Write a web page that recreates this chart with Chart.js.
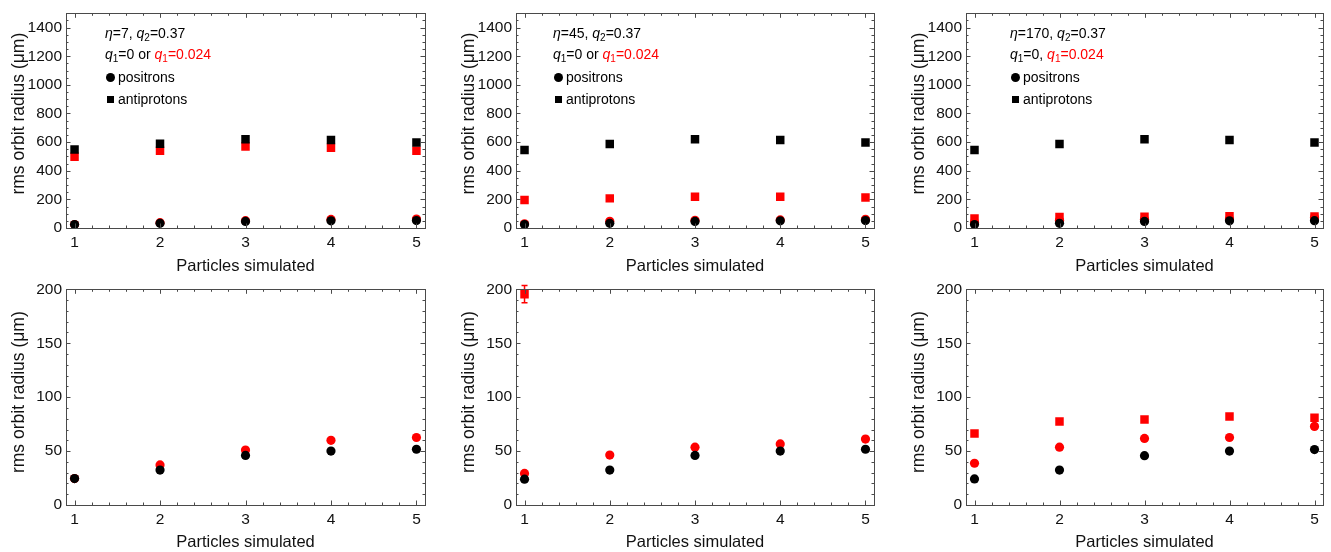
<!DOCTYPE html>
<html><head><meta charset="utf-8">
<script src="https://cdn.jsdelivr.net/npm/chart.js@4/dist/chart.umd.min.js"></script>
<style>
html,body{margin:0;padding:0;background:#fff;}
#wrap{position:relative;width:1331px;height:552px;overflow:hidden;font-family:"Liberation Sans",Arial,sans-serif;}
.panel{position:absolute;}
.note{position:absolute;font-size:14px;color:#000;line-height:14px;white-space:nowrap;}
.note sub{font-size:10px;vertical-align:-3px;line-height:0;}
.red{color:#f00}
.dot{position:absolute;width:9px;height:9px;border-radius:50%;background:#000;}
.sq{position:absolute;width:7px;height:7px;background:#000;}
</style>
</head><body>
<div id="wrap"></div>
<script>
// ---------------- data ----------------
const particles = [1, 2, 3, 4, 5];
const xTicks = [1, 2, 3, 4, 5];
const yTicksTop = [0, 200, 400, 600, 800, 1000, 1200, 1400];
const yTicksBottom = [0, 50, 100, 150, 200];

// eta = 7
const pos7_q0  = [24.5, 32.4, 46.0, 50.0, 51.7];
const pos7_q1  = [24.5, 37.2, 51.0, 60.0, 62.6];
const anti7_q0 = [548, 588, 620, 615, 597];
const anti7_q1 = [497, 540, 569, 560, 540];
// eta = 45
const pos45_q0  = [23.9, 32.4, 46.0, 50.0, 51.7];
const pos45_q1  = [29.3, 46.3, 53.6, 56.6, 61.1];
const anti45_q0 = [545, 587, 620, 615, 597];
const anti45_q1 = [195.5, 207, 219, 219, 213];
const anti45_q1_err = [8, 0, 0, 0, 0];
// eta = 170
const pos170_q0  = [24.2, 32.4, 45.7, 50.0, 51.4];
const pos170_q1  = [38.7, 53.6, 61.7, 62.6, 72.9];
const anti170_q0 = [545, 587, 620, 615, 597];
const anti170_q1 = [66.3, 77.5, 79.3, 82.0, 80.8];

const etaValues = ['7', '45', '170'];
const q2Value = '0.37';
const q1Values = ['0', '0.024'];
const q1Joiners = [' or ', ' or ', ', '];
const legendNames = ['positrons', 'antiprotons'];
const xTitle = 'Particles simulated';
const yTitle = 'rms orbit radius (\u03bcm)';

const columns = [
  {posQ0: pos7_q0, posQ1: pos7_q1, antiQ0: anti7_q0, antiQ1: anti7_q1, antiQ1Err: null},
  {posQ0: pos45_q0, posQ1: pos45_q1, antiQ0: anti45_q0, antiQ1: anti45_q1, antiQ1Err: anti45_q1_err},
  {posQ0: pos170_q0, posQ1: pos170_q1, antiQ0: anti170_q0, antiQ1: anti170_q1, antiQ1Err: null}
];

// ---------------- layout (styles only) ----------------
const BLACK = '#000000', RED = '#ff0000', FRAME = '#4a4a4a';
const colLayout = [
  {left: 0, width: 440, padRight: 15, noteX: 105},
  {left: 450, width: 440, padRight: 16, noteX: 553},
  {left: 900, width: 431, padRight: 8, noteX: 1010}
];
const rowLayout = [
  {top: 0, height: 276, padTop: 7, xHeight: 48, yMax: 1500, yTicks: yTicksTop, yMinorStep: 50, yMajorStep: 200, titleShift: 7},
  {top: 276, height: 276, padTop: 9, xHeight: 47, yMax: 200, yTicks: yTicksBottom, yMinorStep: 10, yMajorStep: 50, titleShift: 5}
];

Chart.defaults.font.family = "'Liberation Sans', Arial, sans-serif";
Chart.defaults.color = '#000';

const framePlugin = {
  id: 'frameTicks',
  afterDatasetsDraw(chart, args, opts) {
    const {ctx, chartArea: a, scales: {x, y}} = chart;
    ctx.save();
    ctx.strokeStyle = FRAME;
    ctx.lineWidth = 1;
    ctx.strokeRect(Math.round(a.left) + 0.5, Math.round(a.top) + 0.5, Math.round(a.right - a.left), Math.round(a.bottom - a.top));
    ctx.beginPath();
    const major = 4.5, minor = 2.5;
    for (let i = 0; i <= 20; i++) {
      const v = 1 + i * 0.2;
      if (v < x.min || v > x.max) continue;
      const len = (i % 5 === 0) ? major : minor;
      const px = Math.round(x.getPixelForValue(v)) + 0.5;
      ctx.moveTo(px, a.bottom); ctx.lineTo(px, a.bottom - len);
      ctx.moveTo(px, a.top); ctx.lineTo(px, a.top + len);
    }
    const n = Math.round(y.max / opts.yMinorStep);
    const ratio = Math.round(opts.yMajorStep / opts.yMinorStep);
    for (let i = 0; i <= n; i++) {
      const v = i * opts.yMinorStep;
      const len = (i % ratio === 0) ? major : minor;
      const py = Math.round(y.getPixelForValue(v)) + 0.5;
      ctx.moveTo(a.left, py); ctx.lineTo(a.left + len, py);
      ctx.moveTo(a.right, py); ctx.lineTo(a.right - len, py);
    }
    ctx.stroke();
    ctx.restore();
  }
};

// y-axis title drawn through the scale's own box, nudged like the original
const yTitlePlugin = {
  id: 'yTitle',
  afterDraw(chart, args, opts) {
    const {ctx, chartArea: a} = chart;
    ctx.save();
    ctx.font = "17.5px 'Liberation Sans', Arial, sans-serif";
    ctx.fillStyle = '#111';
    ctx.textAlign = 'center';
    ctx.textBaseline = 'middle';
    ctx.translate(19, (a.top + a.bottom) / 2 - opts.shift);
    ctx.rotate(-Math.PI / 2);
    ctx.fillText(yTitle, 0, 0);
    ctx.restore();
  }
};

const errorBarPlugin = {
  id: 'errorBars',
  beforeDatasetsDraw(chart) {
    const {ctx} = chart;
    chart.data.datasets.forEach((ds, di) => {
      if (!ds.errors) return;
      const meta = chart.getDatasetMeta(di);
      const yScale = chart.scales.y;
      ctx.save();
      ctx.strokeStyle = ds.backgroundColor;
      ctx.lineWidth = 1.5;
      ds.data.forEach((p, i) => {
        const e = ds.errors[i];
        if (!e) return;
        const px = meta.data[i].x;
        const y1 = yScale.getPixelForValue(p.y - e), y2 = yScale.getPixelForValue(p.y + e);
        ctx.beginPath();
        ctx.moveTo(px, y1); ctx.lineTo(px, y2);
        ctx.moveTo(px - 3, y1); ctx.lineTo(px + 3, y1);
        ctx.moveTo(px - 3, y2); ctx.lineTo(px + 3, y2);
        ctx.stroke();
      });
      ctx.restore();
    });
  }
};

function pts(arr) { return arr.map((v, i) => ({x: particles[i], y: v})); }

const wrap = document.getElementById('wrap');
rowLayout.forEach((row, ri) => {
  columns.forEach((col, ci) => {
    const cl = colLayout[ci];
    const div = document.createElement('div');
    div.className = 'panel';
    div.style.left = cl.left + 'px'; div.style.top = row.top + 'px';
    const cv = document.createElement('canvas');
    cv.width = cl.width; cv.height = row.height;
    cv.style.width = cl.width + 'px'; cv.style.height = row.height + 'px';
    div.appendChild(cv);
    wrap.appendChild(div);
    const ds = [
      {data: pts(col.posQ0), pointStyle: 'circle', pointRadius: 4.6, backgroundColor: BLACK, borderColor: BLACK, borderWidth: 0},
      {data: pts(col.antiQ0), pointStyle: 'rect', pointRadius: 6.0, backgroundColor: BLACK, borderColor: BLACK, borderWidth: 0},
      {data: pts(col.posQ1), pointStyle: 'circle', pointRadius: 4.6, backgroundColor: RED, borderColor: RED, borderWidth: 0},
      {data: pts(col.antiQ1), pointStyle: 'rect', pointRadius: 6.0, backgroundColor: RED, borderColor: RED, borderWidth: 0, errors: col.antiQ1Err}
    ];
    new Chart(cv, {
      type: 'scatter',
      data: {datasets: ds},
      options: {
        responsive: false, animation: false, events: [],
        layout: {padding: {top: row.padTop, right: cl.padRight, bottom: 0, left: 0}},
        plugins: {legend: {display: false}, tooltip: {enabled: false},
                  frameTicks: {yMinorStep: row.yMinorStep, yMajorStep: row.yMajorStep},
                  yTitle: {shift: row.titleShift}},
        scales: {
          x: {
            type: 'linear', min: 0.9, max: 5.1,
            afterBuildTicks: s => { s.ticks = xTicks.map(v => ({value: v})); },
            afterFit: s => { s.height = row.xHeight; },
            grid: {display: false, drawTicks: false}, border: {display: false},
            ticks: {font: {size: 15.5}, color: '#111', padding: 5, maxRotation: 0, callback: v => String(v)},
            title: {display: true, text: xTitle, font: {size: 16.5}, color: '#111', padding: {top: 0, bottom: 0}}
          },
          y: {
            type: 'linear', min: 0, max: row.yMax,
            afterBuildTicks: s => { s.ticks = row.yTicks.map(v => ({value: v})); },
            afterFit: s => { s.width = 66; },
            grid: {display: false, drawTicks: false}, border: {display: false},
            ticks: {font: {size: 15.5}, color: '#111', padding: 4, callback: v => String(v)},
            title: {display: false}
          }
        }
      },
      plugins: [framePlugin, errorBarPlugin, yTitlePlugin]
    });

    if (ri === 0) {
      const x0 = cl.noteX;
      const lines = [
        {top: 26, html: '<i>\u03b7</i>=' + etaValues[ci] + ', <i>q</i><sub>2</sub>=' + q2Value},
        {top: 47, html: '<i>q</i><sub>1</sub>=' + q1Values[0] + q1Joiners[ci] + '<span class="red"><i>q</i><sub>1</sub>=' + q1Values[1] + '</span>'},
      ];
      lines.forEach(l => {
        const n = document.createElement('div');
        n.className = 'note';
        n.style.left = x0 + 'px'; n.style.top = l.top + 'px';
        n.innerHTML = l.html;
        wrap.appendChild(n);
      });
      const d = document.createElement('div'); d.className = 'dot';
      d.style.left = (x0 + 1) + 'px'; d.style.top = (77 - 4.5) + 'px'; wrap.appendChild(d);
      const s = document.createElement('div'); s.className = 'sq';
      s.style.left = (x0 + 2) + 'px'; s.style.top = (99 - 3.5) + 'px'; wrap.appendChild(s);
      [[77, legendNames[0]], [99, legendNames[1]]].forEach(([cy, t]) => {
        const n = document.createElement('div');
        n.className = 'note';
        n.style.left = (x0 + 13) + 'px'; n.style.top = (cy - 7) + 'px';
        n.textContent = t;
        wrap.appendChild(n);
      });
    }
  });
});
</script>
</body></html>
